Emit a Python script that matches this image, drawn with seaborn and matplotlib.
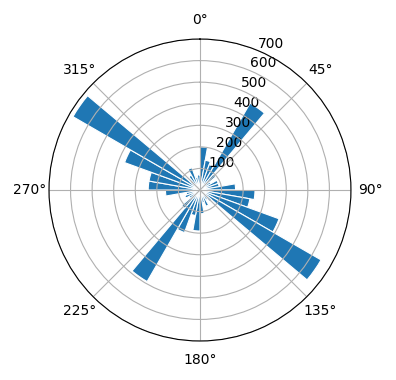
import numpy as np
import pandas as pd
import matplotlib
matplotlib.use("Agg")
import matplotlib.pyplot as plt
import seaborn as sns

# Direction bins (start of each 10-degree bin) and counts
bin_start_deg = list(range(0, 360, 10))
counts = [200, 140, 125, 465, 95, 60, 90, 90, 165, 255,
          235, 390, 648, 70, 55, 80, 60, 110, 190, 120,
          210, 490, 110, 60, 75, 65, 160, 240, 240, 372,
          680, 60, 80, 110, 60, 70]
r_ticks = [100, 200, 300, 400, 500, 600, 700]
theta_ticks_deg = [0, 45, 90, 135, 180, 225, 270, 315]

bin_width_deg = 10
df = pd.DataFrame({
    "theta": np.deg2rad(np.array(bin_start_deg) + bin_width_deg / 2),
    "count": counts,
})

fig = plt.figure(figsize=(3.96, 3.8), dpi=100)
ax = fig.add_axes([0.1237, 0.1026, 0.7626, 0.7947], projection="polar")
ax.set_theta_zero_location("N")
ax.set_theta_direction(-1)

sns.barplot(data=df, x="theta", y="count", native_scale=True, width=1,
            color="#1f77b4", saturation=1, edgecolor="white", linewidth=0.8,
            errorbar=None, ax=ax)

ax.set_xlabel("")
ax.set_ylabel("")
ax.set_ylim(0, 700)
ax.set_yticks(r_ticks)
ax.set_xticks(np.deg2rad(theta_ticks_deg))
ax.grid(True)

fig.savefig("out.png", dpi=100)
